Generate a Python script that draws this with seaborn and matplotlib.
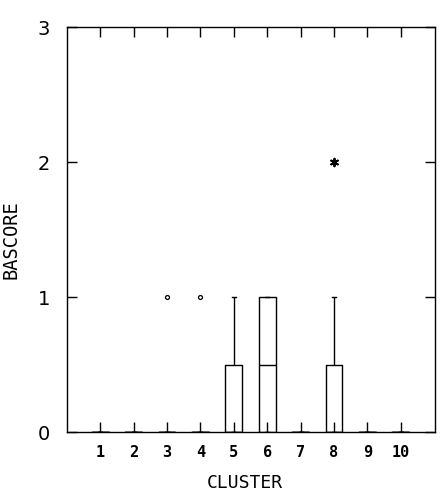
import numpy as np
import pandas as pd
import seaborn as sns
import matplotlib
matplotlib.use("Agg")
import matplotlib.pyplot as plt

# BASCORE values per cluster
scores_c1 = [0, 0, 0, 0, 0]
scores_c2 = [0, 0, 0, 0]
scores_c3 = [0, 0, 0, 0, 0, 0, 1]
scores_c4 = [0, 0, 0, 0, 0, 1]
scores_c5 = [0, 0, 0, 0, 0, 1, 1]
scores_c6 = [0, 0, 1, 1]
scores_c7 = [0, 0, 0]
scores_c8 = [0, 0, 0, 0, 0, 1, 2]
scores_c9 = [0, 0, 0]
scores_c10 = [0, 0, 0, 0]

clusters = [1, 2, 3, 4, 5, 6, 7, 8, 9, 10]
scores = [scores_c1, scores_c2, scores_c3, scores_c4, scores_c5,
          scores_c6, scores_c7, scores_c8, scores_c9, scores_c10]
y_ticks = [0, 1, 2, 3]

df = pd.DataFrame({
    "CLUSTER": np.repeat(clusters, [len(s) for s in scores]),
    "BASCORE": np.concatenate(scores).astype(float),
})

# outliers (SPSS style: circle = outlier, star = extreme)
out_rows = []
for c, s in zip(clusters, scores):
    q1, q3 = np.percentile(s, [25, 75])
    iqr = q3 - q1
    for v in s:
        if v > q3 + 1.5 * iqr or v < q1 - 1.5 * iqr:
            extreme = iqr > 0 and (v >= q3 + 3 * iqr or v <= q1 - 3 * iqr)
            out_rows.append((c, v, "extreme" if extreme else "outlier"))
outs = pd.DataFrame(out_rows, columns=["CLUSTER", "BASCORE", "kind"])

fig = plt.figure(figsize=(4.47, 4.93), dpi=100)
ax = fig.add_axes([0.1499, 0.1237, 0.8233, 0.8215])

sns.boxplot(data=df, x="CLUSTER", y="BASCORE", native_scale=True,
            fill=False, color="black", width=0.5, linewidth=1.0,
            showfliers=False, ax=ax)

o = outs[outs["kind"] == "outlier"]
ax.scatter(o["CLUSTER"], o["BASCORE"], marker="o", s=8, facecolors="white",
           edgecolors="black", linewidths=0.9, zorder=5)
e = outs[outs["kind"] == "extreme"]
ax.scatter(e["CLUSTER"], e["BASCORE"], marker=(6, 2, 0), s=30,
           color="black", linewidths=1.4, zorder=5)

# shrink whisker caps
for line in ax.lines:
    xd = np.asarray(line.get_xdata(), dtype=float)
    yd = np.asarray(line.get_ydata(), dtype=float)
    if len(xd) == 2 and yd[0] == yd[1] and 0 < abs(xd[1] - xd[0]) < 0.45:
        mid = xd.mean()
        line.set_xdata([mid - 0.06, mid + 0.06])

ax.set_xlim(0, 11.03)
ax.set_ylim(0, 3)
ax.set_xticks(clusters)
ax.set_xticklabels([str(c) for c in clusters], fontfamily="DejaVu Sans Mono",
                   fontsize=11, fontweight="bold")
ax.set_yticks(y_ticks)
ax.set_yticklabels([str(t) for t in y_ticks], fontsize=14)
ax.tick_params(axis="both", direction="in", top=True, right=True,
               length=7, width=1, colors="black")
ax.tick_params(axis="x", pad=9)
ax.tick_params(axis="y", pad=12)
for sp in ax.spines.values():
    sp.set_linewidth(1)
    sp.set_color("black")
ax.set_xlabel("CLUSTER", fontfamily="DejaVu Sans Mono", fontsize=13)
ax.set_ylabel("BASCORE", fontfamily="DejaVu Sans Mono", fontsize=13.5)
ax.xaxis.set_label_coords(0.484, -0.103)
ax.yaxis.set_label_coords(-0.152, 0.474)
ax.xaxis.label.set_va("top")
ax.yaxis.label.set_va("center")
ax.grid(False)

fig.savefig("out.png", dpi=100)
